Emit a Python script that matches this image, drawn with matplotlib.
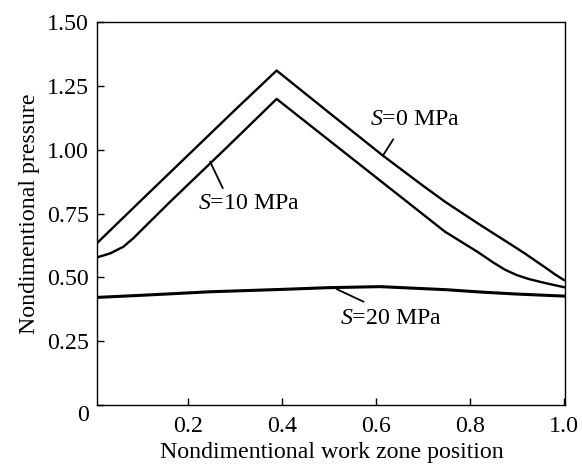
import matplotlib
matplotlib.use('Agg')
import matplotlib.pyplot as plt

# Data
x_s0 = [0.008, 0.10, 0.20, 0.30, 0.389, 0.50, 0.616, 0.70, 0.748, 0.818, 0.889, 0.92, 0.946, 0.965, 0.981, 1.0]
y_s0 = [0.636, 0.800, 0.977, 1.154, 1.309, 1.145, 0.975, 0.859, 0.795, 0.710, 0.627, 0.590, 0.557, 0.533, 0.512, 0.490]

x_s10 = [0.008, 0.035, 0.063, 0.084, 0.162, 0.28, 0.389, 0.50, 0.60, 0.747, 0.818, 0.85, 0.875, 0.90, 0.925, 0.96, 1.0]
y_s10 = [0.579, 0.594, 0.620, 0.653, 0.795, 1.003, 1.198, 1.037, 0.892, 0.679, 0.598, 0.558, 0.530, 0.509, 0.494, 0.478, 0.462]

x_s20 = [0.008, 0.10, 0.248, 0.397, 0.50, 0.609, 0.75, 0.822, 0.90, 1.0]
y_s20 = [0.422, 0.430, 0.444, 0.453, 0.460, 0.464, 0.452, 0.443, 0.435, 0.427]

x_ticks = [0.2, 0.4, 0.6, 0.8, 1.0]
x_ticklabels = ['0.2', '0.4', '0.6', '0.8', '1.0']
y_ticks = [0, 0.25, 0.5, 0.75, 1.0, 1.25, 1.5]
y_ticklabels = ['0', '0.25', '0.50', '0.75', '1.00', '1.25', '1.50']

plt.rcParams['font.family'] = 'Liberation Serif'
plt.rcParams['mathtext.fontset'] = 'custom'
plt.rcParams['mathtext.it'] = 'Liberation Serif:italic'
plt.rcParams['mathtext.rm'] = 'Liberation Serif'

fs = 17.2

fig = plt.figure(figsize=(5.82, 4.66), dpi=100)
ax = fig.add_axes([97.5 / 582, (466 - 405.3) / 466, (565.3 - 97.5) / 582, (405.3 - 21.7) / 466])

ax.plot(x_s0, y_s0, color='black', lw=1.7)
ax.plot(x_s10, y_s10, color='black', lw=1.7)
ax.plot(x_s20, y_s20, color='black', lw=2.2)

ax.set_xlim(0.008, 1.003)
ax.set_ylim(0, 1.5)
ax.set_xticks(x_ticks)
ax.set_xticklabels(x_ticklabels)
ax.set_yticks(y_ticks)
ax.set_yticklabels(y_ticklabels)
ax.tick_params(direction='in', length=5, width=1, labelsize=fs)
ax.tick_params(axis='y', pad=6)
ax.tick_params(axis='x', pad=8)
ax.get_yticklabels()[0].set_verticalalignment('top')
for sp in ax.spines.values():
    sp.set_linewidth(1.0)

ax.set_xlabel('Nondimentional work zone position', fontsize=fs, labelpad=3)
ax.set_ylabel('Nondimentional pressure', fontsize=fs, labelpad=5)

# Curve labels with leader lines
lead = dict(arrowstyle='-', color='black', lw=1.3, shrinkA=0, shrinkB=0)
ax.annotate('', xy=(0.637, 1.040), xytext=(0.616, 0.979), arrowprops=lead)
ax.text(0.588, 1.116, '$S$=0 MPa', fontsize=fs, ha='left', va='center')

ax.annotate('', xy=(0.2474, 0.953), xytext=(0.2745, 0.849), arrowprops=lead)
ax.text(0.2226, 0.790, '$S$=10 MPa', fontsize=fs, ha='left', va='center')

ax.annotate('', xy=(0.517, 0.454), xytext=(0.574, 0.405), arrowprops=lead)
ax.text(0.524, 0.341, '$S$=20 MPa', fontsize=fs, ha='left', va='center')

plt.savefig('out.png', dpi=100)
